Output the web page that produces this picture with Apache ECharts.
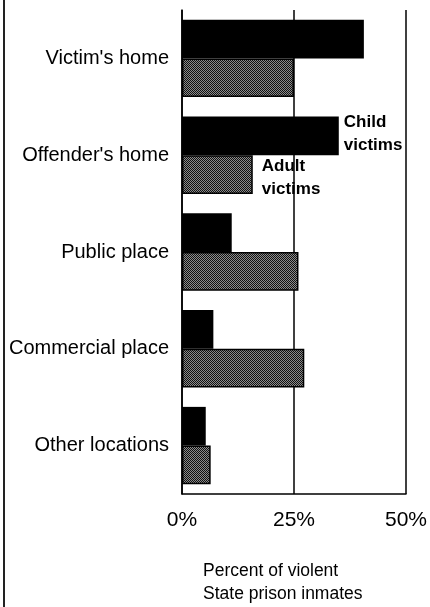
<!DOCTYPE html>
<html>
<head>
<meta charset="utf-8">
<script src="https://cdn.jsdelivr.net/npm/echarts@6/dist/echarts.min.js"></script>
<style>
  html, body { margin: 0; padding: 0; background: #fff; }
  #chart { width: 430px; height: 607px; }
</style>
</head>
<body>
<div id="chart"></div>
<script>
// data
var locations = ["Victim's home", "Offender's home", 'Public place', 'Commercial place', 'Other locations'];
var childVictims = [40.6, 35, 11.1, 7, 5.3];
var adultVictims = [25, 15.8, 26, 27.3, 6.4];
var tickLabels = ['0%', '25%', '50%'];

var font = '"Liberation Sans", Arial, Helvetica, sans-serif';

// stippled grey fill like the print
function stipple() {
  var c = document.createElement('canvas');
  c.width = 2; c.height = 2;
  var ctx = c.getContext('2d');
  ctx.fillStyle = '#8c8c8c';
  ctx.fillRect(0, 0, 2, 2);
  ctx.fillStyle = '#111';
  ctx.fillRect(0, 0, 1, 1);
  ctx.fillRect(1, 1, 1, 1);
  return c;
}

// label only on the offender's home bars
var childData = childVictims.map(function (v, i) {
  if (i !== 1) return v;
  return { value: v, label: { show: true, position: 'right', distance: 5, offset: [0, -2], formatter: 'Child\nvictims' } };
});
var adultData = adultVictims.map(function (v, i) {
  if (i !== 1) return v;
  return { value: v, label: { show: true, position: 'right', distance: 9, offset: [0, 3], formatter: 'Adult\nvictims' } };
});

var barLabel = {
  show: false,
  color: '#000',
  fontFamily: font,
  fontWeight: 'bold',
  fontSize: 17,
  lineHeight: 23
};

var option = {
  backgroundColor: '#fff',
  animation: false,
  textStyle: { fontFamily: font, color: '#000' },
  title: {
    text: 'Percent of violent\nState prison inmates',
    left: 203,
    top: 560,
    padding: 0,
    textStyle: { fontFamily: font, fontSize: 17.5, fontWeight: 'normal', color: '#000', lineHeight: 23 }
  },
  grid: { left: 182, right: 22, top: 10, bottom: 113 },
  xAxis: {
    type: 'value',
    min: 0,
    max: 50,
    interval: 25,
    axisLine: { show: true, lineStyle: { color: '#000', width: 1.5 } },
    axisTick: { show: false },
    splitLine: { show: true, lineStyle: { color: '#000', width: 1.5 } },
    axisLabel: {
      margin: 16,
      fontSize: 21,
      color: '#000',
      fontFamily: font,
      formatter: function (v) { return tickLabels[v / 25]; }
    }
  },
  yAxis: {
    type: 'category',
    data: locations,
    inverse: true,
    axisLine: { show: true, lineStyle: { color: '#000', width: 1.5 } },
    axisTick: { show: false },
    axisLabel: { margin: 13, fontSize: 20, color: '#000', fontFamily: font }
  },
  series: [
    {
      name: 'Child victims',
      type: 'bar',
      data: childData,
      barGap: '0%',
      barCategoryGap: '20%',
      itemStyle: { color: '#000' },
      label: barLabel
    },
    {
      name: 'Adult victims',
      type: 'bar',
      data: adultData,
      itemStyle: {
        color: { image: stipple(), repeat: 'repeat' },
        borderColor: '#000',
        borderWidth: 1.5
      },
      label: barLabel
    }
  ],
  graphic: [
    {
      type: 'line',
      shape: { x1: 4, y1: 0, x2: 4, y2: 607 },
      style: { stroke: '#222', lineWidth: 2 }
    }
  ]
};

var myChart = echarts.init(document.getElementById('chart'));
myChart.setOption(option);
</script>
</body>
</html>
